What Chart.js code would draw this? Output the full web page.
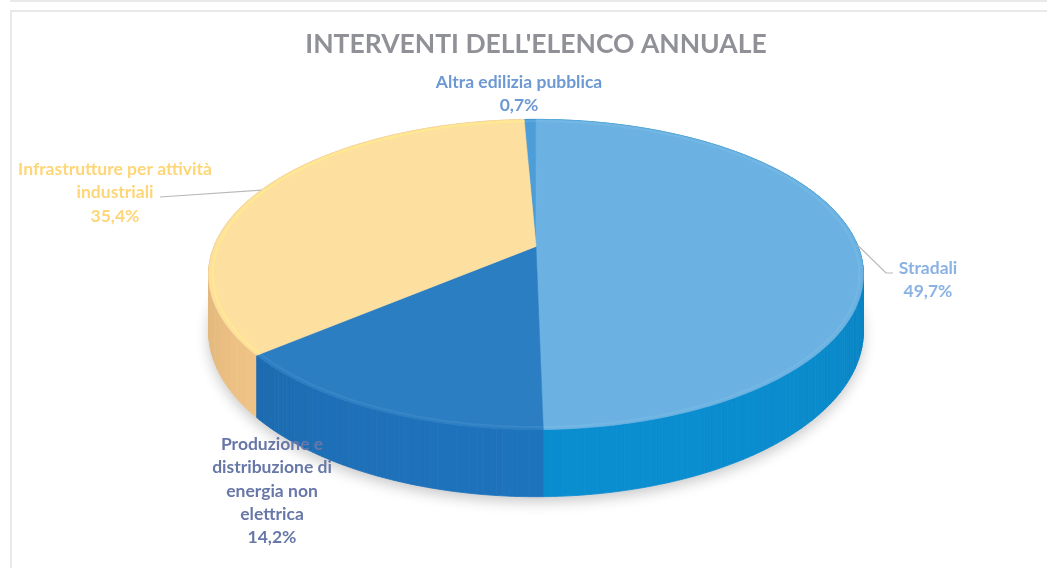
<!DOCTYPE html>
<html>
<head>
<meta charset="utf-8">
<script src="https://cdn.jsdelivr.net/npm/chart.js@4.4.0/dist/chart.umd.min.js"></script>
<style>
  html, body { margin: 0; padding: 0; background: #fff; overflow: hidden; }
  #wrap { position: relative; width: 1047px; height: 568px; }
  .topline { position: absolute; left: 10px; top: 0; right: 0; height: 2px; background: #e9e9e9; }
  .frame { position: absolute; left: 10px; top: 10px; width: 1100px; height: 700px;
           border-left: 2px solid #e9e9e9; border-top: 2px solid #e9e9e9; }
  canvas { position: absolute; left: 0; top: 0; }
</style>
</head>
<body>
<div id="wrap">
  <div class="topline"></div>
  <div class="frame"></div>
  <canvas id="pieChart" width="1047" height="568"></canvas>
</div>
<script>
// Data
const categories = [
    'Altra edilizia pubblica',
    'Stradali',
    'Produzione e distribuzione di energia non elettrica',
    'Infrastrutture per attività industriali'
];
const shares = [0.7, 49.7, 14.2, 35.4];
const labelLines = [
    ['Altra edilizia pubblica'],
    ['Stradali'],
    ['Produzione e', 'distribuzione di', 'energia non', 'elettrica'],
    ['Infrastrutture per attività', 'industriali']
];

// Colours
const topColors = ['#4d9dd8', '#6bb2e2', '#2b7ec2', '#fddfa0'];
const sideColors = [[20, 132, 198], [10, 139, 204], [30, 113, 186], [252, 205, 140]];
const rimColors = ['rgba(140,200,240,0.25)', 'rgba(150,205,240,0.2)', 'rgba(90,160,215,0.25)', 'rgba(255,236,140,0.8)'];
const labelColors = ['#6c99d3', '#8ab2e2', '#6777a8', '#fed678'];

// 3D look (tilted disc seen in perspective)
const RX = 322, RY = 150, PERSP = 0.181, DEPTH = 55;

// Text placement for each slice label (centre x, first line baseline y)
const labelPos = [
    { x: 519, y: 88 },
    { x: 928, y: 274 },
    { x: 272, y: 450 },
    { x: 115, y: 175 }
];

function project(cx, cy, ang, z) {
    const u = Math.cos(ang), v = Math.sin(ang);
    const f = 1 / (1 - PERSP * v);
    return { x: cx + RX * u * f, y: cy + RY * v * f + z * f };
}

function shade(rgb, k) {
    return 'rgb(' + rgb.map(c => Math.max(0, Math.min(255, Math.round(c * k)))).join(',') + ')';
}

const pie3d = {
    id: 'pie3d',
    beforeDatasetsDraw(chart) {
        const ctx = chart.ctx;
        const arcs = chart.getDatasetMeta(0).data;
        const cx = arcs[0].x, cy = arcs[0].y;
        const step = Math.PI / 180;

        // soft shadow under the disc
        ctx.save();
        ctx.shadowColor = 'rgba(0,0,0,0.22)';
        ctx.shadowBlur = 14;
        ctx.shadowOffsetY = 5;
        ctx.beginPath();
        for (let a = 0; a <= Math.PI * 2 + 0.001; a += step) {
            const p = project(cx, cy, a, DEPTH);
            if (a === 0) ctx.moveTo(p.x, p.y); else ctx.lineTo(p.x, p.y);
        }
        ctx.closePath();
        ctx.fillStyle = '#e8e8e8';
        ctx.fill();
        ctx.restore();

        // outer wall, drawn back to front
        const segs = [];
        arcs.forEach((arc, i) => {
            const a0 = arc.startAngle, a1 = arc.endAngle;
            const n = Math.max(1, Math.ceil((a1 - a0) / step));
            for (let k = 0; k < n; k++) {
                const s = a0 + (a1 - a0) * k / n;
                const e = a0 + (a1 - a0) * (k + 1) / n;
                const m = (s + e) / 2;
                segs.push({ i, s, e, v: Math.sin(m), m });
            }
        });
        segs.sort((a, b) => a.v - b.v);
        segs.forEach(sg => {
            const p0 = project(cx, cy, sg.s, 0), p1 = project(cx, cy, sg.e, 0);
            const q1 = project(cx, cy, sg.e, DEPTH), q0 = project(cx, cy, sg.s, DEPTH);
            const k = 0.9 + 0.12 * Math.max(0, Math.sin(sg.m + 0.25));
            const col = shade(sideColors[sg.i], k);
            ctx.beginPath();
            ctx.moveTo(p0.x, p0.y);
            ctx.lineTo(p1.x, p1.y);
            ctx.lineTo(q1.x, q1.y);
            ctx.lineTo(q0.x, q0.y);
            ctx.closePath();
            ctx.fillStyle = col;
            ctx.strokeStyle = col;
            ctx.lineWidth = 0.8;
            ctx.fill();
            ctx.stroke();
        });

        // top faces
        arcs.forEach((arc, i) => {
            const a0 = arc.startAngle, a1 = arc.endAngle;
            const n = Math.max(2, Math.ceil((a1 - a0) / step));
            ctx.beginPath();
            ctx.moveTo(cx, cy);
            for (let k = 0; k <= n; k++) {
                const p = project(cx, cy, a0 + (a1 - a0) * k / n, 0);
                ctx.lineTo(p.x, p.y);
            }
            ctx.closePath();
            ctx.fillStyle = topColors[i];
            ctx.strokeStyle = topColors[i];
            ctx.lineWidth = 0.6;
            ctx.fill();
            ctx.stroke();

            // bevel highlight along the rim
            ctx.beginPath();
            for (let k = 0; k <= n; k++) {
                const a = a0 + (a1 - a0) * k / n;
                const u = Math.cos(a), v = Math.sin(a);
                const f = 1 / (1 - PERSP * v);
                const x = cx + (RX - 4) * u * f, y = cy + (RY - 2) * v * f;
                if (k === 0) ctx.moveTo(x, y); else ctx.lineTo(x, y);
            }
            ctx.strokeStyle = rimColors[i];
            ctx.lineWidth = 2;
            ctx.stroke();
        });
        return false;
    },
    afterDraw(chart) {
        const ctx = chart.ctx;
        const arcs = chart.getDatasetMeta(0).data;
        const cx = arcs[0].x, cy = arcs[0].y;

        // leader lines
        ctx.save();
        ctx.strokeStyle = '#b9b9b9';
        ctx.lineWidth = 1.2;
        const midS = (arcs[1].startAngle + arcs[1].endAngle) / 2;
        const pS = project(cx, cy, midS, 0);
        ctx.beginPath();
        ctx.moveTo(pS.x, pS.y);
        ctx.lineTo(886, 273);
        ctx.lineTo(893, 273);
        ctx.stroke();
        const midI = (arcs[3].startAngle + arcs[3].endAngle) / 2;
        const pI = project(cx, cy, midI, 0);
        ctx.beginPath();
        ctx.moveTo(pI.x, pI.y);
        ctx.lineTo(160, 197);
        ctx.stroke();

        // labels
        ctx.font = 'bold 17.5px Lato';
        ctx.textAlign = 'center';
        ctx.textBaseline = 'alphabetic';
        shares.forEach((val, i) => {
            const lines = labelLines[i].concat([val.toFixed(1).replace('.', ',') + '%']);
            ctx.fillStyle = labelColors[i];
            lines.forEach((t, j) => {
                ctx.fillText(t, labelPos[i].x, labelPos[i].y + j * 23.3);
            });
        });
        ctx.restore();
    }
};

new Chart(document.getElementById('pieChart'), {
    type: 'pie',
    data: {
        labels: categories,
        datasets: [{
            data: shares,
            backgroundColor: topColors,
            borderWidth: 0
        }]
    },
    options: {
        responsive: false,
        animation: false,
        rotation: -2.5,
        layout: { padding: { left: 25, right: 0, top: 18, bottom: 146 } },
        plugins: {
            legend: { display: false },
            tooltip: { enabled: false },
            title: {
                display: true,
                text: "INTERVENTI DELL'ELENCO ANNUALE",
                color: '#8f9196',
                font: { family: 'Lato', size: 26.5, weight: 'bold' },
                padding: { top: 11, bottom: 10 }
            }
        }
    },
    plugins: [pie3d]
});
</script>
</body>
</html>
